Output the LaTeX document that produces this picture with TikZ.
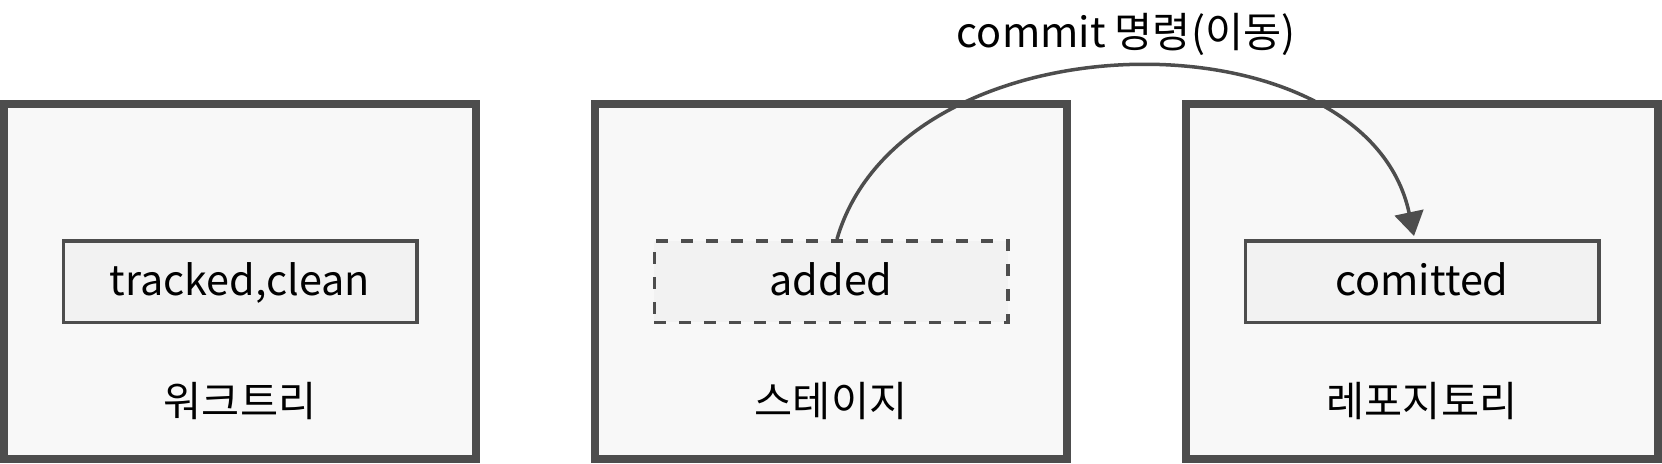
\documentclass[tikz,border=0pt]{standalone}
\usepackage{fontspec}
\setmainfont{Noto Sans CJK KR}
\usetikzlibrary{arrows.meta}
\definecolor{edgegray}{HTML}{4D4D4D}
\definecolor{areafill}{HTML}{F8F8F8}
\definecolor{filefill}{HTML}{F2F2F2}

\begin{document}
\begin{tikzpicture}[x=0.5pt, y=-0.5pt,
    area/.style={draw=edgegray, fill=areafill, line width=4pt, minimum width=236pt, minimum height=177.5pt, inner sep=0pt},
    file/.style={draw=edgegray, fill=filefill, line width=1.75pt, minimum width=176.75pt, minimum height=40.75pt, inner sep=0pt,
      font=\fontsize{20.7}{24}\selectfont, text height=18pt, text depth=4pt},
    lbl/.style={font=\fontsize{20.7}{24}\selectfont, anchor=base, inner sep=0pt}]

  \useasboundingbox (0,0) rectangle (1662,463);

  % three areas
  \node[area] (work)  at (240,281.5)  {};
  \node[area] (stage) at (831,281.5)  {};
  \node[area] (repo)  at (1422,281.5) {};

  % file states
  \node[file] (tracked) at (240,281.5) {tracked,clean};
  \node[file, dash pattern=on 6pt off 6.5pt] (added) at (831,281.5) {added};
  \node[file] (committed) at (1422,281.5) {comitted};

  \node[lbl] (worklbl)  at (240,416)  {워크트리};
  \node[lbl] (stagelbl) at (831,416)  {스테이지};
  \node[lbl] (repolbl)  at (1422,416) {레포지토리};

  % commit moves the file
  \draw[edgegray, line width=1.75pt, -{Triangle[length=12pt,width=14.5pt]}]
    ([xshift=3pt]added.north) .. controls +(66,-227) and +(-48,-227) .. ([xshift=-4pt,yshift=1.5pt]committed.north);
  \node[lbl] (cmdlbl) at (1126,47) {commit 명령(이동)};

\end{tikzpicture}
\end{document}
